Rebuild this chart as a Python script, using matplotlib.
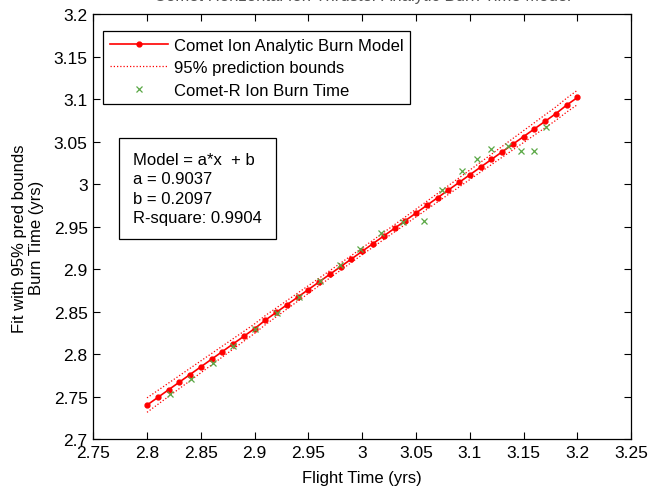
import matplotlib
matplotlib.use('Agg')
import matplotlib.pyplot as plt

plt.rcParams['font.family'] = ['Liberation Sans', 'DejaVu Sans']

# fitted model points (a*x + b)
fit_x = [2.80, 2.81, 2.82, 2.83, 2.84, 2.85, 2.86, 2.87, 2.88, 2.89,
         2.90, 2.91, 2.92, 2.93, 2.94, 2.95, 2.96, 2.97, 2.98, 2.99,
         3.00, 3.01, 3.02, 3.03, 3.04, 3.05, 3.06, 3.07, 3.08, 3.09,
         3.10, 3.11, 3.12, 3.13, 3.14, 3.15, 3.16, 3.17, 3.18, 3.19, 3.20]
fit_y = [2.740, 2.749, 2.758, 2.767, 2.776, 2.785, 2.794, 2.803, 2.812, 2.821,
         2.830, 2.840, 2.849, 2.858, 2.867, 2.876, 2.885, 2.894, 2.903, 2.912,
         2.921, 2.930, 2.939, 2.948, 2.957, 2.966, 2.975, 2.984, 2.993, 3.002,
         3.011, 3.020, 3.029, 3.038, 3.047, 3.056, 3.065, 3.074, 3.083, 3.093, 3.102]

# half width of the 95% prediction band at each fit point
band_half = [0.0085, 0.0082, 0.0079, 0.0076, 0.0073, 0.0070, 0.0067, 0.0064, 0.0061, 0.0058,
             0.0056, 0.0054, 0.0052, 0.0050, 0.0048, 0.0046, 0.0044, 0.0043, 0.0042, 0.0041,
             0.0040, 0.0041, 0.0042, 0.0043, 0.0044, 0.0046, 0.0048, 0.0050, 0.0052, 0.0054,
             0.0056, 0.0058, 0.0061, 0.0064, 0.0067, 0.0070, 0.0073, 0.0076, 0.0079, 0.0082, 0.0085]

# Comet-R burn times
comet_x = [2.821, 2.841, 2.861, 2.880, 2.900, 2.921, 2.941, 2.961, 2.979, 2.998,
           3.017, 3.038, 3.057, 3.074, 3.093, 3.107, 3.120, 3.135, 3.148, 3.160, 3.171]
comet_y = [2.753, 2.771, 2.790, 2.810, 2.829, 2.848, 2.867, 2.886, 2.905, 2.924,
           2.942, 2.956, 2.957, 2.993, 3.016, 3.029, 3.041, 3.045, 3.039, 3.039, 3.067]

x_ticks = [2.75, 2.8, 2.85, 2.9, 2.95, 3, 3.05, 3.1, 3.15, 3.2, 3.25]
y_ticks = [2.7, 2.75, 2.8, 2.85, 2.9, 2.95, 3, 3.05, 3.1, 3.15, 3.2]

lower = [y - h for y, h in zip(fit_y, band_half)]
upper = [y + h for y, h in zip(fit_y, band_half)]

fig = plt.figure(figsize=(6.61, 4.89), dpi=100)
ax = fig.add_axes([0.141, 0.100, 0.814, 0.869])

ax.plot(fit_x, fit_y, color='#ff0000', lw=1.2, marker='.', markersize=7,
        label='Comet Ion Analytic Burn Model')
ax.plot(fit_x, lower, color='#ff0000', lw=0.9, ls=(0, (1, 1.6)),
        label='95% prediction bounds')
ax.plot(fit_x, upper, color='#ff0000', lw=0.9, ls=(0, (1, 1.6)))
ax.plot(comet_x, comet_y, ls='none', marker='x', color='#5aa845',
        markersize=5, markeredgewidth=0.9, label='Comet-R Ion Burn Time')

ax.set_xlim(2.75, 3.25)
ax.set_ylim(2.7, 3.2)
ax.set_xticks(x_ticks)
ax.set_yticks(y_ticks)
ax.set_xticklabels([('%g' % t) for t in x_ticks])
ax.set_yticklabels([('%g' % t) for t in y_ticks])
ax.tick_params(direction='in', length=5, top=True, right=True, labelsize=12.5, pad=4)
for s in ax.spines.values():
    s.set_linewidth(0.9)

ax.set_xlabel('Flight Time (yrs)', fontsize=12)
ax.xaxis.set_label_coords(0.5, -0.073)
ax.set_ylabel('Fit with 95% pred bounds\nBurn Time (yrs)', fontsize=12)
ax.yaxis.set_label_coords(-0.091, 0.475)
ax.set_title('Comet Horizontal Ion Thruster Analytic Burn Time Model', fontsize=12,
             pad=10.5, color='#555555')

leg = ax.legend(loc='upper left', bbox_to_anchor=(0.0186, 0.96), fontsize=12,
                fancybox=False, framealpha=1, edgecolor='black', borderaxespad=0,
                handlelength=3.5, handletextpad=0.35, borderpad=0.4, labelspacing=0.45)
leg.get_frame().set_linewidth(0.9)

ax.text(0.074, 0.675, 'Model = a*x  + b\na = 0.9037\nb = 0.2097\nR-square: 0.9904',
        transform=ax.transAxes, fontsize=12, va='top', ha='left', linespacing=1.35,
        bbox=dict(boxstyle='square,pad=0.85', fc='white', ec='black', lw=0.9))

fig.savefig('out.png', dpi=100)
